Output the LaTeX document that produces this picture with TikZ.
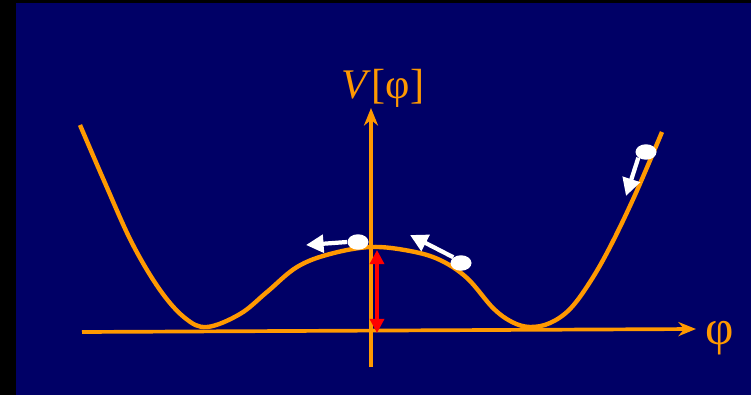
\documentclass[tikz,border=0pt]{standalone}
\usepackage{fontspec}
\setmainfont{Liberation Serif}
\usetikzlibrary{arrows.meta,shapes.geometric}
\definecolor{navy}{RGB}{0,0,102}
\definecolor{amber}{RGB}{255,153,0}

\begin{document}
\begin{tikzpicture}[x=0.02cm, y=-0.02cm, >=Stealth,
  axis/.style={draw=amber, line width=2.1pt, -{Stealth[length=10pt,width=8pt]}},
  curve/.style={draw=amber, line width=2.5pt, line join=round},
  ball/.style={ellipse, fill=white, minimum width=0.42cm, minimum height=0.31cm, inner sep=0pt},
  push/.style={draw=white, line width=2.4pt, -{Triangle[length=10pt,width=10pt]}},
  gap/.style={draw=red, line width=1.8pt, {Triangle[length=8pt,width=8pt]}-{Triangle[length=8pt,width=8pt]}},
  lbl/.style={text=amber, inner sep=0pt}]

% slide: black frame on the left and at the top, navy field
\useasboundingbox (0,0) rectangle (751,395);
\fill[black] (0,0) rectangle (751,395);
\fill[navy] (16,3) rectangle (751,395);

% axes
\coordinate (xleft)  at (82,332);
\coordinate (xright) at (696,329);
\coordinate (ybot)   at (371,367);
\coordinate (ytop)   at (371,108);
\draw[axis] (xleft) -- (xright);
\draw[axis] (ybot) -- (ytop);
\node[lbl, font=\fontsize{28}{32}\selectfont] (phi) at (720,338) {φ};
\node[lbl, font=\fontsize{24}{28}\selectfont] (vphi) at (383,88) {\textit{V}[φ]};

% the double-well potential
\draw[curve] plot[smooth, tension=0.6] coordinates {
  (80,125) (105,183) (132,243) (160,290) (185,318) (207,327)
  (240,314) (267,292) (297,267) (330,254) (371,247)
  (410,251) (440,260) (467,278) (493,308) (512,322) (530,327)
  (550,323) (570,309) (590,282) (610,247) (635,195) (662,132)};

% field values rolling on the potential
\node[ball] (top)   at (358,242) {};
\node[ball] (slope) at (461,263) {};
\node[ball] (wall)  at (646,152) {};
\coordinate (toptip)   at (306,245);
\coordinate (slopetip) at (410,235);
\coordinate (walltip)  at (626,196);
\draw[push] (top.west)         -- (toptip);
\draw[push] (slope.north west) -- (slopetip);
\draw[push] (wall.south west)  -- (walltip);

% barrier height
\coordinate (hitop) at (377,250);
\coordinate (hibot) at (377,333);
\draw[gap] (hibot) -- (hitop);
\end{tikzpicture}
\end{document}
